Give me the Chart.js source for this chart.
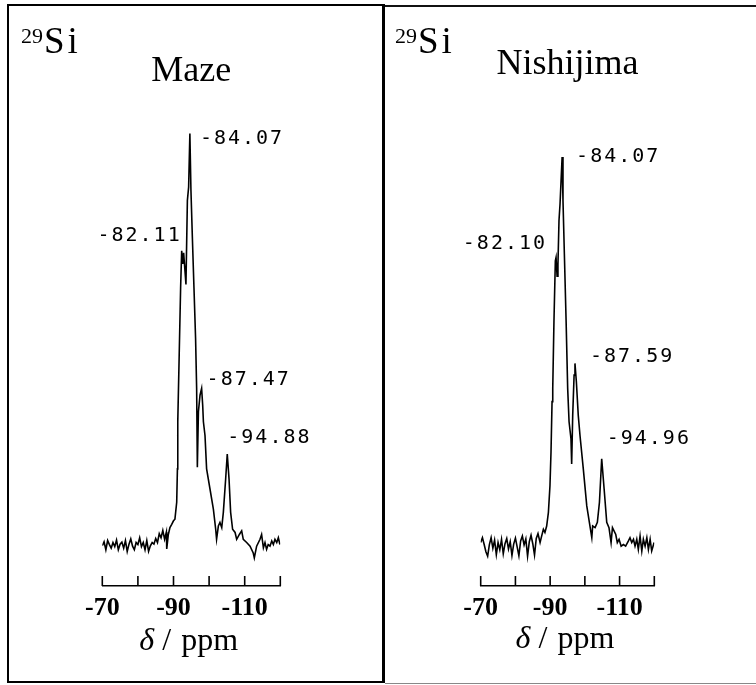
<!DOCTYPE html>
<html><head><meta charset="utf-8">
<script src="https://cdn.jsdelivr.net/npm/chart.js@4.4.1/dist/chart.umd.min.js"></script>
<style>
html,body{margin:0;padding:0;background:#fff;}
#wrap{position:relative;width:756px;height:685px;overflow:hidden;background:#fff;}
.box{position:absolute;box-sizing:border-box;}
#boxL{left:7px;top:4px;width:378px;height:679px;border-left:2px solid #000;border-top:2.5px solid #000;border-bottom:2.5px solid #000;border-right:3px solid #000;}
#boxR{left:385px;top:5px;width:371px;height:679px;border-top:2px solid #111;border-bottom:1px solid #888;}
canvas{position:absolute;top:0;}
#cL{left:0}
#cR{left:383px}
.nuc{position:absolute;top:22px;font-family:'Liberation Serif',serif;font-size:37px;line-height:37px;color:#000;white-space:nowrap}
.nuc .iso{font-size:22px;position:relative;top:-10px;margin-right:1px}
.nuc .s{letter-spacing:3px}
</style></head>
<body>
<div id="wrap">
  <div class="box" id="boxL"></div>
  <div class="box" id="boxR"></div>
  <canvas id="cL" width="383" height="685"></canvas>
  <canvas id="cR" width="373" height="685"></canvas>
  <div class="nuc" style="left:21px"><span class="iso">29</span><span class="s">S</span>i</div>
  <div class="nuc" style="left:395px"><span class="iso">29</span><span class="s">S</span>i</div>
</div>
<script>
// ---- data ----
const panelTitles = ['Maze', 'Nishijima'];
const axisTickValues = [-70, -80, -90, -100, -110, -120];
const axisTickLabels = ['-70', '', '-90', '', '-110', ''];
const axisTitleSymbol = 'δ';
const axisTitleSlash = '/';
const axisTitleUnit = 'ppm';

// Maze spectrum: chemical shift (axis units) and intensity (arbitrary)
const mazeShift = [-70.0,-70.5,-71.0,-71.5,-72.0,-72.5,-73.0,-73.5,-74.0,-74.5,-75.0,-75.5,-76.0,-76.5,-77.0,-77.5,-78.0,-78.5,-79.0,-79.5,-80.0,-80.5,-81.0,-81.5,-82.0,-82.5,-83.0,-83.5,-84.0,-84.5,-85.0,-85.5,-86.0,-86.5,-87.0,-87.5,-88.0,-88.1,-88.55,-89.0,-89.5,-90.0,-90.4,-90.9,-91.1,-91.2,-91.6,-92.0,-92.3,-92.6,-92.85,-93.5,-93.9,-94.25,-94.6,-94.9,-95.3,-95.75,-96.2,-96.5,-96.7,-97.0,-97.45,-97.9,-98.2,-98.4,-98.85,-99.3,-100.25,-101.2,-101.85,-102.1,-102.6,-103.05,-103.55,-104.0,-104.65,-105.1,-105.6,-106.05,-106.6,-107.3,-107.75,-108.5,-109.15,-109.6,-110.55,-111.5,-112.4,-112.7,-113.35,-114.3,-114.75,-115.25,-115.7,-116.15,-116.6,-117.1,-117.6,-118.05,-118.5,-119.0,-119.45,-119.9];
const mazeIntensity = [0.0,1.0,-1.0,1.3,0.3,-0.6,0.8,-0.2,1.4,-1.0,0.4,0.9,-0.6,1.3,-1.4,0.4,1.7,-0.1,-1.0,0.8,0.3,2.0,-0.2,0.8,-1.0,1.3,-1.4,0.0,0.8,0.4,1.8,0.8,3.0,2.0,3.8,1.6,3.4,-0.8,2.8,4.5,5.3,6.2,6.6,10.8,19.1,30.8,47.4,64.1,73.3,70.0,72.8,64.9,85.8,89.1,102.4,88.3,76.6,64.1,51.6,39.1,19.5,33.3,37.4,39.1,34.9,30.8,27.4,19.1,14.1,9.1,4.1,1.6,4.9,5.8,4.5,8.3,16.6,22.8,16.6,8.3,4.1,3.3,1.6,2.8,3.7,1.6,0.8,-0.1,-1.8,-3.0,-0.1,1.6,2.8,-0.5,0.8,-0.9,0.3,-0.1,1.2,0.3,1.6,0.8,2.0,0.3];
const mazePeakLabels = ['-84.07', '-82.11', '-87.47', '-94.88'];
const mazePeakShift = [-94.6, -92.3, -97.9, -105.1];
const mazePeakIntensity = [102.4, 73.3, 39.1, 22.8];

// Nishijima spectrum
const nishiShift = [-70.0,-70.5,-71.0,-71.5,-72.0,-72.5,-73.0,-73.5,-74.0,-74.5,-75.0,-75.5,-76.0,-76.5,-77.0,-77.5,-78.0,-78.5,-79.0,-79.5,-80.0,-80.5,-81.0,-81.5,-82.0,-82.5,-83.0,-83.5,-84.0,-84.5,-85.0,-85.5,-86.0,-86.5,-87.1,-87.55,-88.05,-88.5,-89.0,-89.5,-89.95,-90.25,-90.55,-90.75,-91.1,-91.5,-91.7,-92.0,-92.25,-92.55,-92.85,-93.15,-93.45,-93.7,-94.1,-94.6,-95.05,-95.45,-96.0,-96.2,-96.5,-96.9,-97.15,-97.55,-98.1,-98.6,-99.55,-100.55,-101.3,-102.0,-102.25,-102.95,-103.6,-104.2,-104.85,-105.55,-106.3,-106.95,-107.55,-107.95,-108.4,-108.9,-109.35,-109.85,-110.45,-111.1,-111.75,-112.55,-113.0,-113.5,-114.0,-114.45,-114.95,-115.4,-115.9,-116.4,-116.85,-117.35,-117.85,-118.3,-118.8,-119.25,-119.95];
const nishiIntensity = [0.8,2.0,0.3,-1.5,-2.6,0.3,2.0,-0.6,1.4,-2.2,0.8,-1.0,1.6,-2.0,0.5,1.8,-0.8,1.0,-2.4,0.4,1.9,-0.3,-2.5,1.2,2.4,0.2,1.7,-2.6,1.0,2.6,0.5,-2.3,1.8,3.0,0.8,2.4,4.1,3.3,4.9,8.3,14.9,23.3,35.8,39.1,55.8,70.8,71.6,67.0,69.9,80.8,84.9,90.8,96.6,85.8,72.4,55.8,39.1,30.8,26.6,20.3,32.4,42.4,45.3,40.8,32.4,27.4,19.1,9.9,5.8,2.0,4.9,4.5,5.8,10.8,21.6,14.1,5.8,4.5,0.8,4.5,3.7,2.8,0.8,1.6,-0.1,0.3,-0.1,1.2,2.0,0.8,1.6,-0.1,1.6,-0.9,2.4,-1.3,1.6,-0.1,2.0,-0.9,1.6,-1.3,0.8];
const nishiPeakLabels = ['-84.07', '-82.10', '-87.59', '-94.96'];
const nishiPeakShift = [-93.45, -91.7, -97.15, -104.85];
const nishiPeakIntensity = [96.6, 71.6, 45.3, 21.6];

// ---- styling / layout (not data) ----
const mazeLabelOffsets = [{dx:10,dy:5,align:'left'},{dx:0,dy:-15,align:'right'},{dx:5,dy:-9,align:'left'},{dx:0,dy:-16,align:'left'}];
const nishiLabelOffsets = [{dx:14,dy:0,align:'left'},{dx:-9,dy:-14,align:'right'},{dx:15,dy:-7,align:'left'},{dx:5,dy:-20,align:'left'}];

const tickLabelMap = {};
axisTickValues.forEach((v, i) => { tickLabelMap[v] = axisTickLabels[i]; });

const peakLabelPlugin = {
  id: 'peakLabels',
  afterDatasetsDraw(chart, args, opts) {
    const {ctx, scales: {x, y}} = chart;
    ctx.save();
    ctx.font = '20px "DejaVu Sans Mono"';
    try { ctx.letterSpacing = '2px'; } catch (e) {}
    ctx.fillStyle = '#000';
    ctx.textBaseline = 'middle';
    opts.labels.forEach((t, i) => {
      const o = opts.offsets[i];
      const px = x.getPixelForValue(opts.shifts[i]) + o.dx;
      const py = y.getPixelForValue(opts.intensities[i]) + o.dy;
      ctx.textAlign = o.align;
      ctx.fillText(t, px, py);
    });
    ctx.restore();
  }
};

const axisMarksPlugin = {
  id: 'axisMarks',
  afterDraw(chart, args, opts) {
    const {ctx, chartArea, scales: {x}} = chart;
    ctx.save();
    ctx.strokeStyle = '#000';
    ctx.lineWidth = 1.6;
    x.ticks.forEach(t => {
      const px = x.getPixelForValue(t.value);
      ctx.beginPath();
      ctx.moveTo(px, chartArea.bottom);
      ctx.lineTo(px, chartArea.bottom - 10);
      ctx.stroke();
    });
    const cx = (chartArea.left + chartArea.right) / 2;
    ctx.fillStyle = '#000';
    ctx.textBaseline = 'middle';
    ctx.textAlign = 'left';
    ctx.font = 'italic 32px "Liberation Serif"';
    ctx.fillText(axisTitleSymbol, cx - 52, opts.titleY);
    ctx.font = '32px "Liberation Serif"';
    ctx.fillText(axisTitleSlash, cx - 29, opts.titleY);
    ctx.fillText(axisTitleUnit, cx - 10, opts.titleY);
    ctx.restore();
  }
};

function makeChart(id, title, shifts, intens, labels, pShift, pInt, offsets, pad, titleBottom, titleY) {
  const pts = shifts.map((s, i) => ({x: s, y: intens[i]}));
  return new Chart(document.getElementById(id), {
    type: 'line',
    data: { datasets: [{ data: pts, borderColor: '#000', borderWidth: 1.6, pointRadius: 0, tension: 0, fill: false }] },
    options: {
      responsive: false,
      devicePixelRatio: 1,
      animation: false,
      layout: { padding: pad },
      plugins: {
        legend: { display: false },
        tooltip: { enabled: false },
        title: { display: true, text: title, color: '#000', font: { family: 'Liberation Serif', size: 36, weight: 'normal' }, padding: { top: 0, bottom: titleBottom } },
        peakLabels: { labels: labels, shifts: pShift, intensities: pInt, offsets: offsets },
        axisMarks: { titleY: titleY }
      },
      scales: {
        x: {
          type: 'linear', min: -120, max: -70, reverse: true,
          grid: { display: true, drawOnChartArea: false, drawTicks: false },
          border: { display: true, color: '#000', width: 1.6 },
          ticks: { stepSize: 10, autoSkip: false, maxRotation: 0, padding: 6.5, color: '#000',
                   font: { family: 'Liberation Serif', size: 26, weight: 'bold' },
                   callback: (v) => (tickLabelMap[v] !== undefined ? tickLabelMap[v] : '') }
        },
        y: { display: false, min: -10, max: 110 }
      }
    },
    plugins: [peakLabelPlugin, axisMarksPlugin]
  });
}

makeChart('cL', panelTitles[0], mazeShift, mazeIntensity, mazePeakLabels, mazePeakShift, mazePeakIntensity, mazeLabelOffsets,
  { left: 102.3, right: 102.7, top: 49.5, bottom: 54.8 }, 10.3, 642);
makeChart('cR', panelTitles[1], nishiShift, nishiIntensity, nishiPeakLabels, nishiPeakShift, nishiPeakIntensity, nishiLabelOffsets,
  { left: 97.7, right: 101.7, top: 43, bottom: 54.8 }, 16.8, 640);
</script>
</body></html>
